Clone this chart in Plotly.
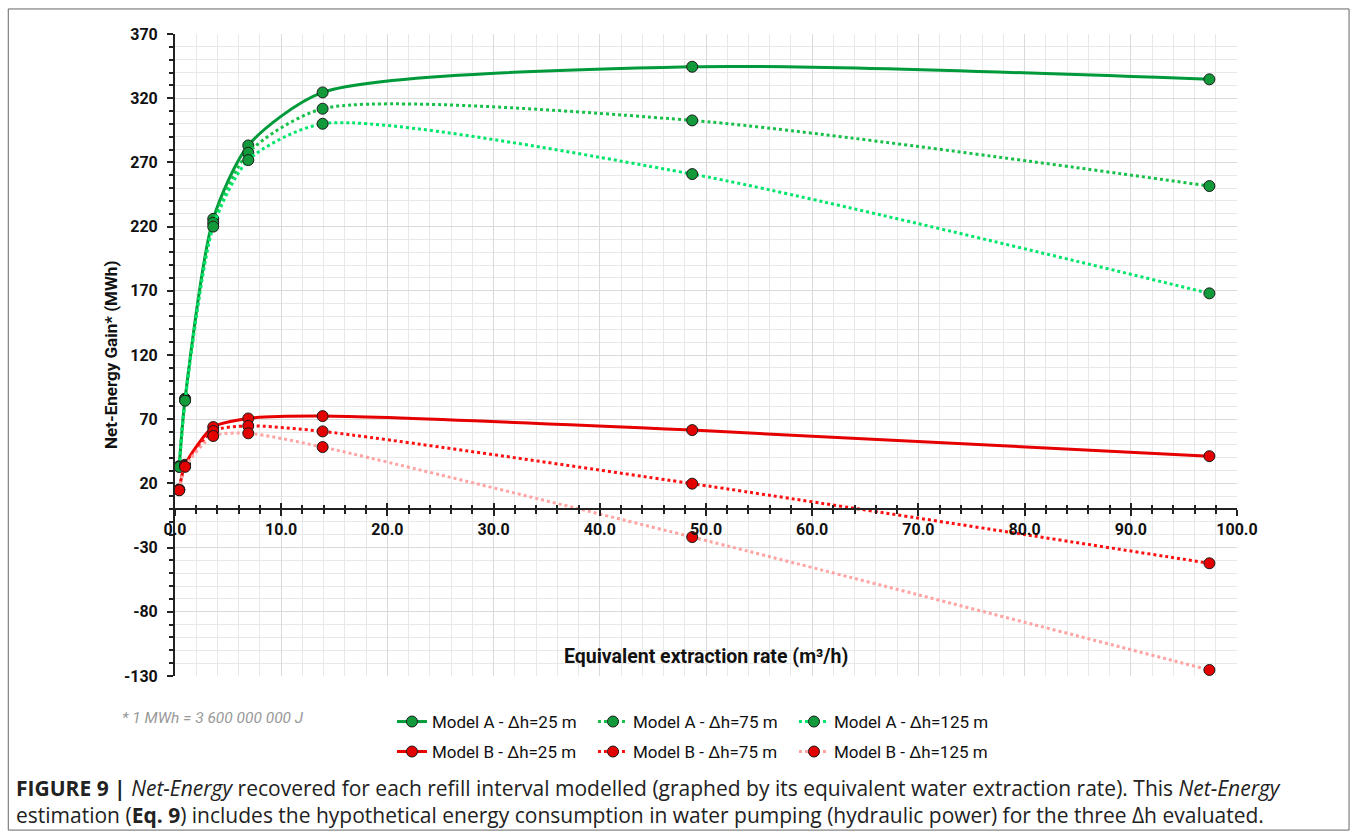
import plotly.graph_objects as go

# Equivalent water extraction rate (m3/h) for each refill interval
rate = [0.4, 0.95, 3.6, 6.9, 13.9, 48.7, 97.4]

# Net-energy gain (MWh)
model_a_25 = [33.5, 86.0, 226.0, 283.2, 324.5, 344.5, 334.7]
model_a_75 = [33.2, 85.2, 223.0, 277.5, 311.8, 302.7, 251.6]
model_a_125 = [32.8, 84.4, 220.0, 271.8, 300.1, 260.9, 168.0]
model_b_25 = [15.3, 34.5, 63.9, 70.6, 72.4, 61.5, 41.2]
model_b_75 = [15.0, 33.7, 60.8, 64.8, 60.5, 19.8, -42.2]
model_b_125 = [14.6, 32.9, 56.9, 59.0, 48.3, -21.8, -125.3]

names = ["Model A - Δh=25 m", "Model A - Δh=75 m", "Model A - Δh=125 m",
         "Model B - Δh=25 m", "Model B - Δh=75 m", "Model B - Δh=125 m"]

# y-axis tick values and labels
y_tickvals = [-130, -80, -30, 20, 70, 120, 170, 220, 270, 320, 370]
y_ticktext = ["-130", "-80", "-30", "20", "70", "120", "170", "220", "270", "320", "370"]

FONT = "Roboto, Liberation Sans, sans-serif"
CAPTION_FONT = "Open Sans, Roboto, sans-serif"

series = [
    (model_a_25, "#009A3A", "solid", "#12993A", "legend"),
    (model_a_75, "#18C04A", "dot", "#12993A", "legend"),
    (model_a_125, "#00E66A", "dot", "#12993A", "legend"),
    (model_b_25, "#E60000", "solid", "#E30000", "legend2"),
    (model_b_75, "#FF1010", "dot", "#E30000", "legend2"),
    (model_b_125, "#FFA3A3", "dot", "#E30000", "legend2"),
]

fig = go.Figure()
for name, (vals, color, dash, mcolor, leg) in zip(names, series):
    fig.add_trace(go.Scatter(
        x=rate, y=vals, name=name, mode="lines+markers", legend=leg,
        line=dict(color=color, width=3, dash=dash, shape="spline", smoothing=0.7),
        marker=dict(size=11, color=mcolor, line=dict(color="#1a1a1a", width=1)),
    ))

# empty trace so the overlaid tick axis is drawn
fig.add_trace(go.Scatter(x=[], y=[], xaxis="x2", showlegend=False, hoverinfo="skip"))

y_min, y_max = -130, 370
x_axis_pos = (0 - y_min) / (y_max - y_min)

legend_common = dict(
    orientation="h", xanchor="left", yanchor="top",
    entrywidth=156, entrywidthmode="pixels",
    font=dict(family=FONT, size=17, color="#111111"),
    itemwidth=30, bgcolor="rgba(0,0,0,0)",
)

fig.update_layout(
    width=1357, height=837,
    margin=dict(l=175, r=120, t=34, b=161),
    paper_bgcolor="white", plot_bgcolor="white",
    showlegend=True,
    legend=dict(x=0.2043, y=-0.0436, **legend_common),
    legend2=dict(x=0.2043, y=-0.0903, **legend_common),
    xaxis=dict(
        range=[0, 100], anchor="free", position=x_axis_pos,
        showline=True, linecolor="#222222", linewidth=2,
        ticks="outside", ticklen=6, tickwidth=2, tickcolor="#222222",
        tick0=0, dtick=10, tickformat=".1f",
        tickfont=dict(family=FONT, size=16, color="#111111", weight="bold"),
        showgrid=True, gridcolor="#DADADA", gridwidth=1, zeroline=False,
        minor=dict(dtick=2, ticks="outside", ticklen=4, tickwidth=1.5,
                   tickcolor="#222222", showgrid=True, gridcolor="#E8E8E8"),
    ),
    xaxis2=dict(
        range=[0, 100], overlaying="x", anchor="free", position=x_axis_pos,
        showline=False, showgrid=False, zeroline=False, showticklabels=False,
        ticks="inside", ticklen=6, tickwidth=2, tickcolor="#222222",
        tick0=0, dtick=10,
        minor=dict(dtick=2, ticks="inside", ticklen=4, tickwidth=1.5,
                   tickcolor="#222222", showgrid=False),
    ),
    yaxis=dict(
        range=[y_min, y_max],
        showline=True, linecolor="#222222", linewidth=2,
        ticks="outside", ticklen=6, tickwidth=2, tickcolor="#222222",
        tickvals=y_tickvals, ticktext=y_ticktext, ticklabelstandoff=6,
        tickfont=dict(family=FONT, size=16, color="#111111", weight="bold"),
        showgrid=True, gridcolor="#DADADA", gridwidth=1, zeroline=False,
        minor=dict(tick0=-130, dtick=10, ticks="outside", ticklen=4, tickwidth=1.5,
                   tickcolor="#222222", showgrid=True, gridcolor="#E8E8E8"),
    ),
    shapes=[
        dict(type="rect", xref="paper", yref="paper",
             x0=-0.157, x1=1.1055, y0=-0.24, y1=1.039,
             line=dict(color="#666666", width=1), fillcolor="rgba(0,0,0,0)"),
    ],
    annotations=[
        dict(text="<b>Net-Energy Gain* (MWh)</b>", xref="paper", yref="paper",
             x=-0.0603, y=0.5, xanchor="center", yanchor="middle",
             textangle=-90, showarrow=False,
             font=dict(family=FONT, size=17, color="#111111")),
        dict(text="<b>Equivalent extraction rate (m³/h)</b>", xref="x", yref="y",
             x=50, y=-114.7, showarrow=False,
             font=dict(family=FONT, size=19.5, color="#111111")),
        dict(text="<i>* 1 MWh = 3 600 000 000 J</i>", xref="paper", yref="paper",
             x=-0.0518, y=-0.0654, xanchor="left", yanchor="middle", showarrow=False,
             font=dict(family=FONT, size=15.5, color="#999999")),
        dict(text=("<b>FIGURE 9 |</b> <i>Net-Energy</i> recovered for each refill interval "
                   "modelled (graphed by its equivalent water extraction rate). This "
                   "<i>Net-Energy</i><br>"
                   "estimation (<b>Eq. 9</b>) includes the hypothetical energy consumption "
                   "in water pumping (hydraulic power) for the three Δh evaluated."),
             xref="paper", yref="paper", x=-0.1516, y=(676 - 802) / 642,
             xanchor="left", yanchor="middle", align="left", showarrow=False,
             font=dict(family=CAPTION_FONT, size=21, color="#222222")),
    ],
)

fig.write_html("out.html")
